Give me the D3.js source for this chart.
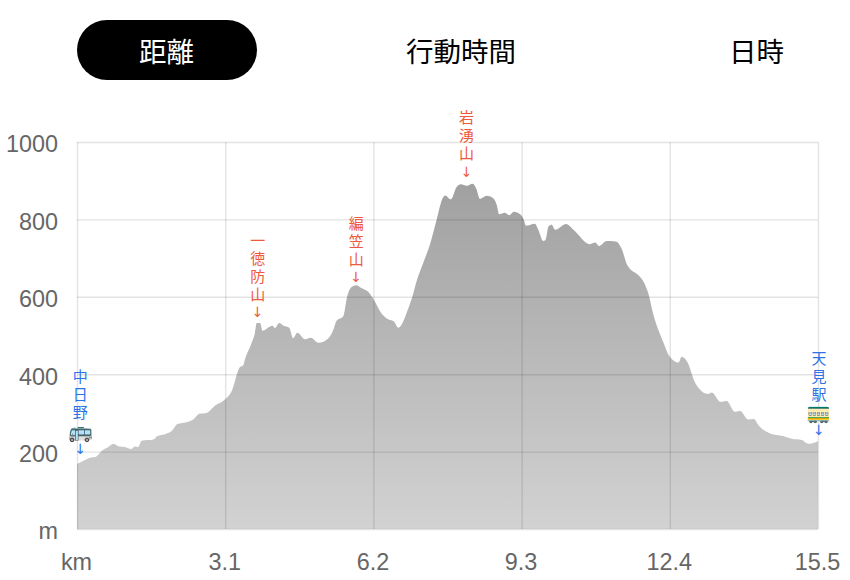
<!DOCTYPE html>
<html>
<head>
<meta charset="utf-8">
<script src="https://cdn.jsdelivr.net/npm/d3@7"></script>
<style>
  html, body { margin: 0; padding: 0; background: #fff; }
  svg { display: block; }
  .tick-label text { font-family: "Liberation Sans", sans-serif; font-size: 23.4px; fill: #666; }
</style>
</head>
<body>
<svg id="chart"></svg>
<script>
const width = 850;
const height = 580;
const margin = { top: 142, right: 32, bottom: 51, left: 77 };

// Tabs above the chart
const tabLabels = ["距離", "行動時間", "日時"];
const tabCentres = [166.5, 461, 756.5];

// Elevation profile
const distanceKm = [
  0, 0.17, 0.27, 0.40, 0.52, 0.65, 0.76, 0.86, 1.00, 1.14, 1.21, 1.28, 1.35, 1.60, 1.68, 1.84, 1.98, 2.10, 2.29, 2.43,
  2.56, 2.71, 2.89, 3.10, 3.24, 3.40, 3.48, 3.51, 3.65, 3.72, 3.76, 3.83, 3.88, 4.04, 4.09, 4.14, 4.23, 4.32, 4.44, 4.52,
  4.61, 4.77, 4.89, 5.05, 5.26, 5.36, 5.43, 5.57, 5.65, 5.75, 5.84, 5.96, 6.09, 6.20, 6.37, 6.48, 6.63, 6.72, 6.93, 7.00,
  7.11, 7.24, 7.38, 7.52, 7.65, 7.70, 7.82, 7.94, 8.03, 8.15, 8.28, 8.35, 8.43, 8.57, 8.70, 8.78, 8.83, 8.95, 9.04, 9.14,
  9.27, 9.35, 9.39, 9.58, 9.65, 9.75, 9.80, 9.86, 9.93, 10.00, 10.23, 10.38, 10.73, 10.84, 10.92, 11.08, 11.27, 11.39, 11.51, 11.78,
  11.85, 11.95, 12.05, 12.26, 12.40, 12.58, 12.65, 12.77, 12.93, 13.20, 13.28, 13.46, 13.59, 13.76, 13.87, 14.04, 14.16, 14.25, 14.50, 14.77,
  14.95, 15.16, 15.30, 15.5
];
const elevationM = [
  168, 178, 184, 187, 202, 211, 220, 214, 212, 207, 213, 212, 228, 231, 240, 245, 253, 271, 276, 283,
  298, 300, 319, 335, 357, 417, 424, 437, 480, 506, 532, 532, 512, 523, 525, 519, 532, 525, 520, 493,
  507, 490, 494, 481, 493, 514, 538, 550, 600, 626, 630, 622, 613, 594, 557, 544, 536, 520, 570, 594,
  643, 687, 734, 798, 855, 862, 852, 884, 891, 887, 892, 880, 853, 861, 855, 837, 813, 817, 811, 820,
  813, 798, 784, 789, 773, 744, 747, 781, 786, 773, 788, 774, 736, 740, 731, 744, 743, 725, 682, 651,
  639, 609, 557, 484, 445, 430, 445, 431, 378, 349, 353, 329, 331, 303, 305, 283, 284, 269, 247, 240,
  233, 230, 220, 227
];

const xTicks = [0, 3.1, 6.2, 9.3, 12.4, 15.5];
const xTickLabels = ["km", "3.1", "6.2", "9.3", "12.4", "15.5"];
const yTicks = [0, 200, 400, 600, 800, 1000];
const yTickLabels = ["m", "200", "400", "600", "800", "1000"];

// Waypoint labels, written one character per line
const stopNames = [["中", "日", "野", "🚌"], ["一", "徳", "防", "山"], ["編", "笠", "山"], ["岩", "湧", "山"], ["天", "見", "駅", "🚃"]];
const stopKm = [0.07, 3.78, 5.84, 8.15, 15.52];
const stopElevation = [168, 532, 630, 892, 227];
const stopGaps = [15, 11, 8, 12, 11];
const stopKinds = ["station", "peak", "peak", "peak", "station"];
const stopColors = { peak: "#ee5a3c", station: "#2b73e6" };

const svg = d3.select("#chart").attr("width", width).attr("height", height);

const x = d3.scaleLinear().domain([0, 15.5]).range([margin.left, width - margin.right]);
const y = d3.scaleLinear().domain([0, 1000]).range([height - margin.bottom, margin.top]);

// Tabs
svg.append("rect")
    .attr("x", 77).attr("y", 20)
    .attr("width", 180).attr("height", 60)
    .attr("rx", 30)
    .attr("fill", "#000");

svg.selectAll(".tab")
    .data(tabLabels)
  .enter().append("text")
    .attr("class", "tab")
    .attr("x", (d, i) => tabCentres[i])
    .attr("y", 52)
    .attr("dy", "0.36em")
    .attr("text-anchor", "middle")
    .attr("font-family", '"Noto Sans CJK JP", sans-serif')
    .attr("font-size", 27.5)
    .attr("fill", (d, i) => i === 0 ? "#fff" : "#000")
    .text(d => d);

// Area with vertical grey gradient
const grad = svg.append("defs").append("linearGradient")
    .attr("id", "fade")
    .attr("gradientUnits", "userSpaceOnUse")
    .attr("x1", 0).attr("x2", 0)
    .attr("y1", y(900)).attr("y2", y(0));
grad.append("stop").attr("offset", 0).attr("stop-color", "#a0a0a0");
grad.append("stop").attr("offset", 1).attr("stop-color", "#d2d2d2");

const area = d3.area()
    .x((d, i) => x(distanceKm[i]))
    .y0(y(0))
    .y1(d => y(d))
    .curve(d3.curveMonotoneX);

svg.append("path")
    .datum(elevationM)
    .attr("d", area)
    .attr("fill", "url(#fade)");

// Grid goes over the area so it shows through darker
const gridX = svg.append("g")
    .attr("transform", `translate(0,${y(0)})`)
    .call(d3.axisBottom(x).tickValues(xTicks).tickSize(y(1000) - y(0)).tickFormat(""));
const gridY = svg.append("g")
    .attr("transform", `translate(${x(0)},0)`)
    .call(d3.axisLeft(y).tickValues(yTicks).tickSize(x(0) - x(15.5)).tickFormat(""));
[gridX, gridY].forEach(g => {
    g.select(".domain").remove();
    g.selectAll("line").attr("stroke", "#000").attr("stroke-opacity", 0.11).attr("stroke-width", 1.4);
});

// Tick labels
const xAxis = svg.append("g")
    .attr("class", "tick-label")
    .attr("transform", `translate(0,${y(0)})`)
    .call(d3.axisBottom(x).tickValues(xTicks).tickSize(0).tickPadding(24)
        .tickFormat((d, i) => xTickLabels[i]));
const yAxis = svg.append("g")
    .attr("class", "tick-label")
    .attr("transform", `translate(${x(0)},0)`)
    .call(d3.axisLeft(y).tickValues(yTicks).tickSize(0).tickPadding(19)
        .tickFormat((d, i) => yTickLabels[i]));
xAxis.select(".domain").remove();
yAxis.select(".domain").remove();
xAxis.selectAll("text").attr("dy", "0.71em").attr("x", -1);
yAxis.selectAll("text").attr("dy", "0.42em");

// Waypoints: arrow just above the line, characters stacked above it in one text
const stops = svg.selectAll(".stop")
    .data(stopNames)
  .enter().append("text")
    .attr("class", "stop")
    .attr("transform", (d, i) => `translate(${x(stopKm[i])},${y(stopElevation[i]) - stopGaps[i]})`)
    .attr("fill", (d, i) => stopColors[stopKinds[i]])
    .attr("text-anchor", "middle")
    .attr("font-family", '"Noto Sans CJK JP", sans-serif')
    .attr("font-size", 15);

stops.selectAll(".char")
    .data(d => d.map((c, i) => ({ c, row: d.length - i })))
  .enter().append("tspan")
    .attr("class", "char")
    .attr("x", 0)
    .attr("y", d => -18 * d.row)
    .attr("dy", "0.36em")
    .attr("font-size", d => /[\u3000-\u9fff]/.test(d.c) ? null : 20)
    .text(d => d.c);

stops.append("tspan")
    .attr("x", 0)
    .attr("y", 0)
    .attr("dy", "0.36em")
    .attr("font-family", '"DejaVu Sans", sans-serif')
    .attr("font-size", 14)
    .text("↓");
</script>
</body>
</html>
